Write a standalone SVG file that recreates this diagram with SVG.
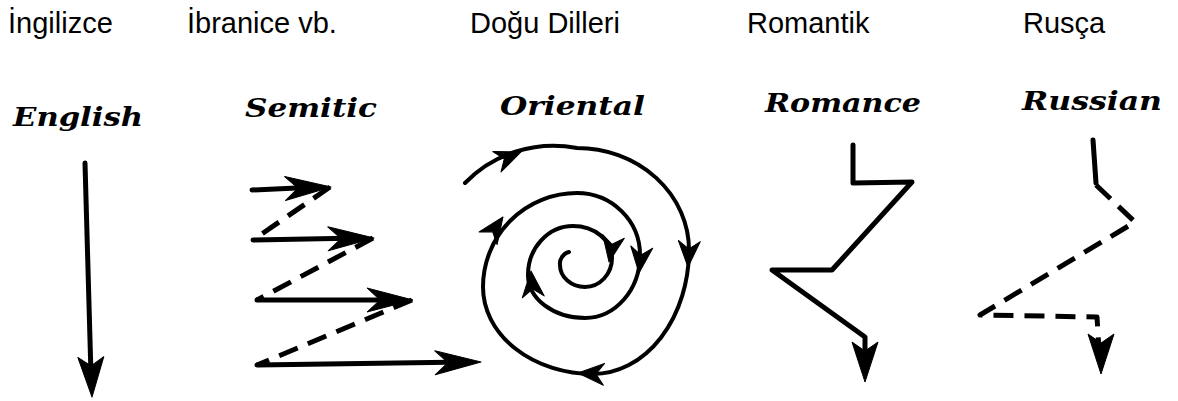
<svg xmlns="http://www.w3.org/2000/svg" width="1178" height="401" viewBox="0 0 1178 401">
<style>
.tr{font-family:"Liberation Sans",Arial,sans-serif;font-size:29px;fill:#000}
.en{font-family:"DejaVu Serif","Liberation Serif",serif;font-size:26px;font-weight:bold;font-style:italic;fill:#000}
.ln{fill:none;stroke:#000;stroke-width:5;stroke-linecap:round;stroke-linejoin:round}
.thin{stroke-width:4}
.dash{stroke-dasharray:20 11;stroke-linecap:butt}
.hd{fill:#000;stroke:#000;stroke-width:1;stroke-linejoin:round}
</style>
<defs>
<path id="headL" d="M0,0 L-40,-13 L-31,0 L-40,13 Z"/>
<path id="headS" d="M0,0 L-46,-12 L-33,0 L-46,12 Z"/>
<path id="headO" d="M0,0 L-26,-11 L-18,0 L-26,11 Z"/>
</defs>
<rect width="1178" height="401" fill="#fff"/>

<g id="turkish-labels">
<text class="tr" x="8" y="33">İngilizce</text>
<text class="tr" x="187" y="33">İbranice vb.</text>
<text class="tr" x="470" y="33">Doğu Dilleri</text>
<text class="tr" x="747" y="33">Romantik</text>
<text class="tr" x="1023" y="33">Rusça</text>
</g>

<g id="english">
<text class="en" x="13" y="126" textLength="130" lengthAdjust="spacingAndGlyphs">English</text>
<path class="ln" d="M85,163 L91,375"/>
<use href="#headL" class="hd" transform="translate(92,397) rotate(88.3)"/>
</g>

<g id="semitic">
<text class="en" x="245" y="117" textLength="132" lengthAdjust="spacingAndGlyphs">Semitic</text>
<path class="ln" d="M252,190 L318,187 M253,240 L360,238 M257,300 L398,300 M257,365 L466,362"/>
<path class="ln dash" d="M330,187 L253,240 M373,238 L257,300 M412,300 L257,365"/>
<use href="#headS" class="hd" transform="translate(331,187) rotate(-2)"/>
<use href="#headS" class="hd" transform="translate(374,238) rotate(-1)"/>
<use href="#headS" class="hd" transform="translate(413,300)"/>
<use href="#headS" class="hd" transform="translate(481,362) rotate(-1)"/>
</g>

<g id="oriental">
<text class="en" x="500" y="115" textLength="145" lengthAdjust="spacingAndGlyphs">Oriental</text>
<path class="ln thin" d="M465,183 A120 115 0 0 1 577,148 A112 102 0 0 1 689,250 A96 124 0 0 1 593,374 A110 87 0 0 1 483,287 A94 94 0 0 1 577,193 A63 62 0 0 1 640,255 A55 63 0 0 1 585,318 A57 43 0 0 1 528,275 A45 49 0 0 1 573,226 A39 32 0 0 1 612,258 A27 29 0 0 1 585,287 A25 22 0 0 1 560,265 A12 12 0 0 1 569,252"/>
<use href="#headO" class="hd" transform="translate(521,152) rotate(-22)"/>
<use href="#headO" class="hd" transform="translate(688,267) rotate(93)"/>
<use href="#headO" class="hd" transform="translate(578,373) rotate(183)"/>
<use href="#headO" class="hd" transform="translate(503,217) rotate(-55)"/>
<use href="#headO" class="hd" transform="translate(639,273) rotate(96)"/>
<use href="#headO" class="hd" transform="translate(531,271) rotate(-95)"/>
<use href="#headO" class="hd" transform="translate(609,262) rotate(100)"/>
</g>

<g id="romance">
<text class="en" x="765" y="112" textLength="156" lengthAdjust="spacingAndGlyphs">Romance</text>
<path class="ln" d="M853,145 L853,183 L912,182 L832,270 L772,270 L865,337 L865,360"/>
<use href="#headL" class="hd" transform="translate(865,382) rotate(90)"/>
</g>

<g id="russian">
<text class="en" x="1022" y="110" textLength="140" lengthAdjust="spacingAndGlyphs">Russian</text>
<path class="ln" d="M1093,140 L1096,183"/>
<path class="ln dash" d="M1096,185 L1135,222 L980,315 L1097,317 L1099,350"/>
<use href="#headL" class="hd" transform="translate(1101,374) rotate(90)"/>
</g>
</svg>
